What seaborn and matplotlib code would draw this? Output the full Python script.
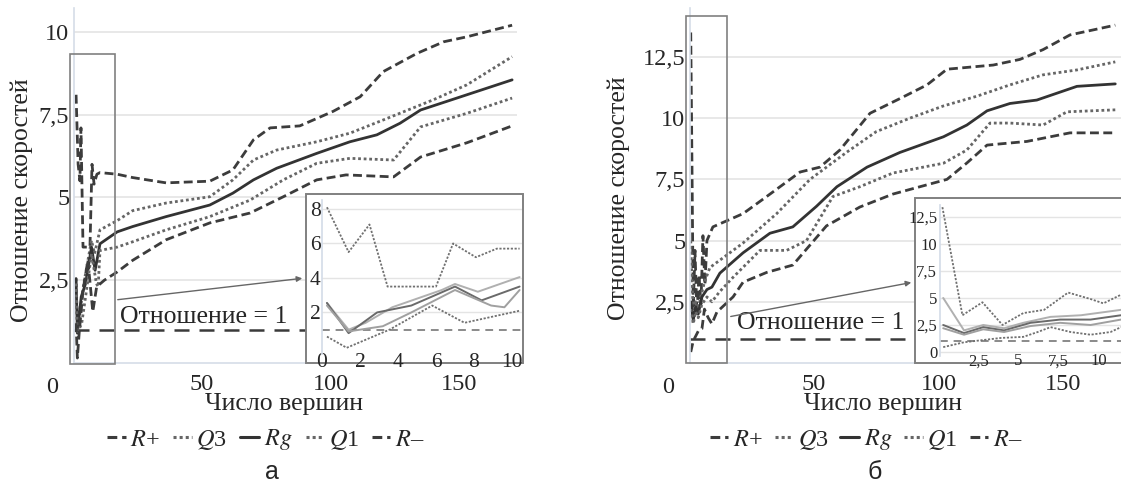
import matplotlib
matplotlib.use("Agg")
import matplotlib.pyplot as plt
import seaborn as sns
from matplotlib.patches import Rectangle, FancyArrowPatch
from matplotlib.lines import Line2D

sns.set_theme(style="white")
plt.rcParams['font.family'] = ['Liberation Serif', 'DejaVu Serif']
plt.rcParams['mathtext.fontset'] = 'stix'

# ---------------- data: panel a (main) ----------------
a_rplus_x = [1.0, 1.8, 2.5, 2.9, 3.7, 6.4, 7.2, 8.0, 9.1, 10.3, 17, 23, 36, 53, 62, 70, 76.5, 88, 101, 111.5, 120.5, 133.6, 144, 153, 170.6]
a_rplus_y = [8.1, 6.0, 5.5, 7.1, 3.5, 3.5, 6.0, 5.4, 5.7, 5.75, 5.7, 5.6, 5.44, 5.49, 5.83, 6.74, 7.1, 7.16, 7.6, 8.04, 8.8, 9.35, 9.7, 9.85, 10.2]
a_q3_x = [1.0, 1.6, 2.5, 4.0, 6.3, 7.0, 8.2, 10.3, 17, 23, 36, 53, 62, 70, 79, 94.6, 107.5, 120.5, 140, 153, 170.6]
a_q3_y = [2.55, 1.0, 1.5, 2.4, 3.4, 3.7, 3.3, 4.02, 4.3, 4.6, 4.83, 5.02, 5.53, 6.13, 6.43, 6.68, 6.94, 7.34, 7.95, 8.4, 9.25]
a_rg_x = [1.0, 1.5, 3.0, 4.7, 7.0, 8.4, 10.3, 17, 23, 36, 53, 62, 70, 79, 94.6, 107.5, 118, 127, 135, 153, 170.6]
a_rg_y = [2.55, 0.9, 2.0, 2.4, 3.5, 2.8, 3.6, 3.96, 4.12, 4.42, 4.77, 5.13, 5.53, 5.88, 6.33, 6.68, 6.89, 7.24, 7.64, 8.1, 8.55]
a_q1_x = [1.0, 1.5, 3.2, 4.7, 7.0, 8.9, 9.6, 10.3, 17, 23, 36, 53, 68.7, 81.6, 94.6, 107.5, 124.5, 135, 153, 170.6]
a_q1_y = [2.4, 0.9, 1.2, 2.0, 3.3, 2.4, 2.3, 3.4, 3.5, 3.66, 4.02, 4.42, 4.92, 5.53, 6.03, 6.18, 6.13, 7.13, 7.54, 8.0]
a_rminus_x = [1.0, 1.5, 2.2, 3.7, 5.6, 7.5, 9.0, 12, 17, 23, 36, 53, 68.7, 81.6, 94.6, 106, 124.5, 135, 153, 170.6]
a_rminus_y = [1.2, 0.15, 0.9, 2.2, 3.1, 1.55, 2.3, 2.5, 2.75, 3.1, 3.72, 4.23, 4.53, 5.02, 5.53, 5.68, 5.62, 6.22, 6.65, 7.16]

# ---------------- data: panel a (inset) ----------------
ai_rplus_x = [0.26, 1.4, 2.5, 3.45, 6.0, 6.9, 8.1, 9.2, 10.4]
ai_rplus_y = [8.1, 5.5, 7.1, 3.5, 3.5, 6.0, 5.2, 5.7, 5.7]
ai_q3_x = [0.26, 1.4, 2.3, 3.7, 6.3, 7.0, 8.2, 10.4]
ai_q3_y = [2.55, 1.0, 1.4, 2.3, 3.3, 3.65, 3.2, 4.05]
ai_rg_x = [0.26, 1.4, 2.9, 4.7, 7.0, 8.4, 10.4]
ai_rg_y = [2.55, 0.8, 2.0, 2.4, 3.5, 2.7, 3.5]
ai_q1_x = [0.26, 1.4, 3.2, 4.7, 7.0, 8.9, 9.6, 10.4]
ai_q1_y = [2.4, 0.9, 1.2, 2.0, 3.3, 2.4, 2.3, 3.3]
ai_rminus_x = [0.26, 1.3, 3.55, 5.8, 7.5, 10.4]
ai_rminus_y = [0.6, -0.05, 1.0, 2.4, 1.4, 2.1]

# ---------------- data: panel b (main) ----------------
b_rplus_x = [0.5, 1.0, 1.5, 2.2, 3.0, 3.8, 4.6, 5.4, 6.2, 7.0, 9.4, 21.5, 31, 44.4, 52.4, 60.4, 72.5, 84.5, 95.4, 103.4, 122, 132.7, 142, 152.8, 171]
b_rplus_y = [13.5, 8.0, 2.2, 4.6, 2.0, 3.6, 2.4, 5.2, 3.2, 5.0, 5.56, 6.1, 6.8, 7.8, 8.0, 8.7, 10.2, 10.8, 11.36, 12.0, 12.17, 12.4, 12.8, 13.4, 13.8]
b_q3_x = [0.5, 1.5, 2.5, 3.5, 4.5, 6.0, 8.2, 21.5, 35, 48.4, 63, 75, 88.5, 102, 115.5, 128.7, 142, 155.6, 171]
b_q3_y = [5.0, 2.0, 2.5, 2.2, 2.7, 3.3, 3.9, 4.9, 6.1, 7.5, 8.6, 9.45, 10.0, 10.5, 10.9, 11.36, 11.77, 11.97, 12.3]
b_rg_x = [0.5, 1.5, 2.5, 3.5, 5.0, 7.0, 9.0, 12.2, 21.5, 32.3, 41.5, 51, 59.2, 71.3, 84.5, 102, 111.4, 119.5, 128.7, 139.5, 155.6, 171]
b_rg_y = [2.5, 1.75, 2.3, 2.0, 2.7, 3.0, 3.1, 3.67, 4.5, 5.3, 5.56, 6.4, 7.2, 8.0, 8.6, 9.24, 9.72, 10.3, 10.6, 10.74, 11.3, 11.4]
b_q1_x = [0.5, 1.5, 2.5, 3.5, 5.0, 7.0, 9.0, 12, 17.5, 28.3, 39, 47, 57.6, 68.4, 81.7, 102, 111.4, 120.7, 128.7, 142, 151.6, 171]
b_q1_y = [2.2, 1.6, 2.1, 1.85, 2.4, 2.7, 2.5, 2.9, 3.5, 4.6, 4.6, 5.0, 6.8, 7.2, 7.76, 8.16, 8.7, 9.8, 9.8, 9.72, 10.26, 10.34]
b_rminus_x = [0.5, 1.5, 3.5, 5.0, 6.0, 7.5, 9.0, 11, 17.5, 21.5, 31, 41.5, 55, 68.4, 81.7, 103.4, 111.4, 119.5, 135.5, 152.8, 171]
b_rminus_y = [0.45, 0.9, 1.3, 1.4, 2.2, 1.85, 1.6, 2.08, 2.7, 3.3, 3.7, 4.0, 5.6, 6.37, 6.9, 7.5, 8.17, 8.9, 9.05, 9.4, 9.4]

# ---------------- data: panel b (inset) ----------------
bi_rplus_x = [0.25, 1.5, 2.75, 4.0, 5.3, 6.6, 8.1, 9.5, 10.3, 11.4]
bi_rplus_y = [13.4, 3.4, 4.6, 2.5, 3.6, 3.9, 5.5, 4.9, 4.5, 5.3]
bi_q3_x = [0.3, 1.6, 2.8, 4.1, 5.3, 7.0, 8.9, 11.4]
bi_q3_y = [5.0, 2.0, 2.5, 2.2, 2.7, 3.25, 3.4, 3.9]
bi_rg_x = [0.3, 1.6, 2.8, 4.1, 5.75, 7.6, 9.5, 11.4]
bi_rg_y = [2.5, 1.75, 2.3, 2.0, 2.7, 3.0, 3.0, 3.4]
bi_q1_x = [0.3, 1.6, 2.8, 4.1, 5.75, 7.6, 9.5, 11.4]
bi_q1_y = [2.2, 1.6, 2.1, 1.85, 2.4, 2.7, 2.5, 3.0]
bi_rminus_x = [0.3, 1.6, 3.9, 5.3, 6.2, 7.0, 8.25, 9.5, 10.75, 11.4]
bi_rminus_y = [0.45, 0.9, 1.3, 1.4, 1.85, 2.3, 1.85, 1.6, 1.85, 2.3]

series_names = ["R+", "Q3", "Rg", "Q1", "R–"]
legend_labels = [r"$R$+", r"$Q$3", r"$Rg$", r"$Q$1", r"$R$–"]

a_main_ticks = [2.5, 5, 7.5, 10]
a_main_ticklabels = ["2,5", "5", "7,5", "10"]
b_main_ticks = [2.5, 5, 7.5, 10, 12.5]
b_main_ticklabels = ["2,5", "5", "7,5", "10", "12,5"]
x_main_ticks = [50, 100, 150]
x_main_ticklabels = ["50", "100", "150"]
a_in_yticks = [2, 4, 6, 8]
a_in_xticks = [0, 2, 4, 6, 8, 10]
b_in_yticks = [0, 2.5, 5, 7.5, 10, 12.5]
b_in_yticklabels = ["0", "2,5", "5", "7,5", "10", "12,5"]
b_in_xticks = [2.5, 5, 7.5, 10]
b_in_xticklabels = ["2,5", "5", "7,5", "10"]

# ---------------- styles ----------------
DASH = (0, (3.2, 1.6))
DOT = (0, (1, 1))
main_style = {
    "R+": dict(color="#3c3c3c", lw=2.0, ls=DASH),
    "Q3": dict(color="#666666", lw=2.0, ls=DOT),
    "Rg": dict(color="#333333", lw=2.0, ls="-"),
    "Q1": dict(color="#666666", lw=2.0, ls=DOT),
    "R–": dict(color="#3c3c3c", lw=2.0, ls=DASH),
}
inset_style = {
    "R+": dict(color="#707070", lw=1.3, ls=(0, (1.2, 0.9))),
    "Q3": dict(color="#b0b0b0", lw=1.4, ls="-"),
    "Rg": dict(color="#6a6a6a", lw=1.4, ls="-"),
    "Q1": dict(color="#a0a0a0", lw=1.4, ls="-"),
    "R–": dict(color="#707070", lw=1.3, ls=(0, (1.2, 0.9))),
}
GRID = "#e4e4e4"
AXL = "#d5dde8"
W, H = 1121, 492

fig = plt.figure(figsize=(W / 100, H / 100), dpi=100)


def fx(px):
    return px / W


def fy(py):
    return 1 - py / H


def draw(ax, xs, ys, st):
    sns.lineplot(x=xs, y=ys, ax=ax, color=st["color"], linewidth=st["lw"],
                 linestyle=st["ls"], sort=False, estimator=None, legend=False)


def style_main(ax, yticks, ylabels, xlim, ylim, ylab_xy, xlab_x):
    ax.set_xlim(*xlim)
    ax.set_ylim(*ylim)
    ax.set_yticks(yticks)
    ax.set_yticklabels(ylabels)
    ax.set_xticks(x_main_ticks)
    ax.set_xticklabels(x_main_ticklabels)
    for s in ["top", "right"]:
        ax.spines[s].set_visible(False)
    ax.spines["left"].set_color(AXL)
    ax.spines["bottom"].set_color(AXL)
    ax.spines["left"].set_linewidth(1.2)
    ax.spines["bottom"].set_linewidth(1.2)
    ax.grid(axis="y", color=GRID, lw=1.2)
    ax.set_axisbelow(True)
    ax.tick_params(axis="y", length=0, labelsize=17.5, pad=3)
    ax.tick_params(axis="x", length=5, color=AXL, labelsize=17.5, pad=3, direction="out")
    ax.set_ylabel("Отношение скоростей", fontsize=18.5)
    ax.yaxis.set_label_coords(*ylab_xy)
    ax.set_xlabel("Число вершин", fontsize=18.5)
    ax.xaxis.set_label_coords(xlab_x, -0.085)
    ax.xaxis.label.set_va("top")
    ax.text(-8.5, -0.04, "0", transform=ax.get_xaxis_transform(), ha="center", va="top", fontsize=17.5)


def style_inset(ax, xlim, ylim):
    ax.set_xlim(*xlim)
    ax.set_ylim(*ylim)
    for s in ["top", "right", "bottom"]:
        ax.spines[s].set_visible(False)
    ax.spines["left"].set_color(AXL)
    ax.grid(axis="y", color=GRID, lw=1.0)
    ax.set_axisbelow(True)
    ax.patch.set_facecolor("white")


# ================= panel a =================
axa = fig.add_axes([fx(73.5), fy(363), fx(517) - fx(73.5), (363 - 8) / H])
a_main = {"R+": (a_rplus_x, a_rplus_y), "Q3": (a_q3_x, a_q3_y), "Rg": (a_rg_x, a_rg_y),
          "Q1": (a_q1_x, a_q1_y), "R–": (a_rminus_x, a_rminus_y)}
for n in series_names:
    draw(axa, *a_main[n], main_style[n])
axa.axhline(1, color="#3a3a3a", lw=1.8, ls=(0, (6, 4)), zorder=1)
style_main(axa, a_main_ticks, a_main_ticklabels, (0, 172.5), (0, 10.72),
           ((33 - 73.5) / 443.5, 0.459), (284 - 73.5) / 443.5)
axa.text(18.1, 1.39, "Отношение = 1", fontsize=18.5, va="center", ha="left")
axa.add_patch(Rectangle((-1.36, -0.03), 17.5, 9.37, fill=False, ec="#808080", lw=1.2, clip_on=False, zorder=5))

# inset a frame and axes
fig.patches.append(Rectangle((fx(306), fy(363)), fx(523) - fx(306), (363 - 194) / H, transform=fig.transFigure,
                             facecolor="white", edgecolor="#808080", lw=1.4, zorder=3))
axai = fig.add_axes([fx(322), fy(354), fx(521.5) - fx(322), (354 - 200) / H], zorder=4)
a_in = {"R+": (ai_rplus_x, ai_rplus_y), "Q3": (ai_q3_x, ai_q3_y), "Rg": (ai_rg_x, ai_rg_y),
        "Q1": (ai_q1_x, ai_q1_y), "R–": (ai_rminus_x, ai_rminus_y)}
for n in series_names:
    draw(axai, *a_in[n], inset_style[n])
axai.axhline(1, color="#8a8a8a", lw=1.4, ls=(0, (4, 3)), zorder=1)
style_inset(axai, (0, 10.5), (-0.41, 8.52))
axai.set_yticks(a_in_yticks)
axai.set_yticklabels([str(v) for v in a_in_yticks])
axai.set_xticks(a_in_xticks)
axai.set_xticklabels([str(v) for v in a_in_xticks])
axai.tick_params(axis="y", length=0, labelsize=15.5, pad=1)
axai.tick_params(axis="x", length=0, labelsize=15.5, pad=-1)
fig.patches.append(FancyArrowPatch((fx(115), fy(300)), (fx(305), fy(278)), transform=fig.transFigure,
                                   arrowstyle="-|>", mutation_scale=8, color="#666666", lw=1.0, zorder=6))

# ================= panel b =================
axb = fig.add_axes([fx(689.5), fy(363), fx(1121) - fx(689.5), (363 - 8) / H])
b_main = {"R+": (b_rplus_x, b_rplus_y), "Q3": (b_q3_x, b_q3_y), "Rg": (b_rg_x, b_rg_y),
          "Q1": (b_q1_x, b_q1_y), "R–": (b_rminus_x, b_rminus_y)}
for n in series_names:
    draw(axb, *b_main[n], main_style[n])
axb.axhline(1, color="#3a3a3a", lw=1.8, ls=(0, (6, 4)), zorder=1)
style_main(axb, b_main_ticks, b_main_ticklabels, (0, 173.3), (0, 14.5),
           ((630 - 689.5) / 431.5, 0.465), (883 - 689.5) / 431.5)
axb.text(19.1, 1.63, "Отношение = 1", fontsize=18.5, va="center", ha="left")
axb.add_patch(Rectangle((-1.4, 0), 16.5, 14.17, fill=False, ec="#808080", lw=1.2, clip_on=False, zorder=5))

fig.patches.append(Rectangle((fx(915), fy(363)), fx(1125) - fx(915), (363 - 198) / H, transform=fig.transFigure,
                             facecolor="white", edgecolor="#808080", lw=1.4, zorder=3))
axbi = fig.add_axes([fx(940), fy(356), fx(1121) - fx(940), (356 - 205) / H], zorder=4)
b_in = {"R+": (bi_rplus_x, bi_rplus_y), "Q3": (bi_q3_x, bi_q3_y), "Rg": (bi_rg_x, bi_rg_y),
        "Q1": (bi_q1_x, bi_q1_y), "R–": (bi_rminus_x, bi_rminus_y)}
for n in series_names:
    draw(axbi, *b_in[n], inset_style[n])
axbi.axhline(1, color="#8a8a8a", lw=1.4, ls=(0, (4, 3)), zorder=1)
style_inset(axbi, (0.1, 11.4), (-0.37, 13.6))
axbi.set_yticks(b_in_yticks)
axbi.set_yticklabels(b_in_yticklabels)
axbi.set_xticks(b_in_xticks)
axbi.set_xticklabels(b_in_xticklabels)
axbi.tick_params(axis="y", length=0, labelsize=12, pad=2)
axbi.tick_params(axis="x", length=0, labelsize=12, pad=-2)
fig.patches.append(FancyArrowPatch((fx(728), fy(317)), (fx(914), fy(282)), transform=fig.transFigure,
                                   arrowstyle="-|>", mutation_scale=8, color="#666666", lw=1.0, zorder=6))

# ================= legends and captions =================
handles = [Line2D([], [], color=main_style[n]["color"], lw=2.2, ls=main_style[n]["ls"]) for n in series_names]
leg_prop = dict(size=17.5)
fig.legend(handles, legend_labels, loc="center", bbox_to_anchor=(fx(266), fy(440)), ncol=5, frameon=False,
           handlelength=0.75, handletextpad=0.2, columnspacing=0.55, prop=leg_prop)
fig.legend(handles, legend_labels, loc="center", bbox_to_anchor=(fx(866), fy(440)), ncol=5, frameon=False,
           handlelength=0.75, handletextpad=0.2, columnspacing=0.5, prop=leg_prop)
fig.text(fx(272), fy(472), "а", ha="center", va="center", fontsize=18, family=["Liberation Sans", "DejaVu Sans"])
fig.text(fx(875), fy(472), "б", ha="center", va="center", fontsize=18, family=["Liberation Sans", "DejaVu Sans"])

fig.savefig("out.png", dpi=100, facecolor="white")
